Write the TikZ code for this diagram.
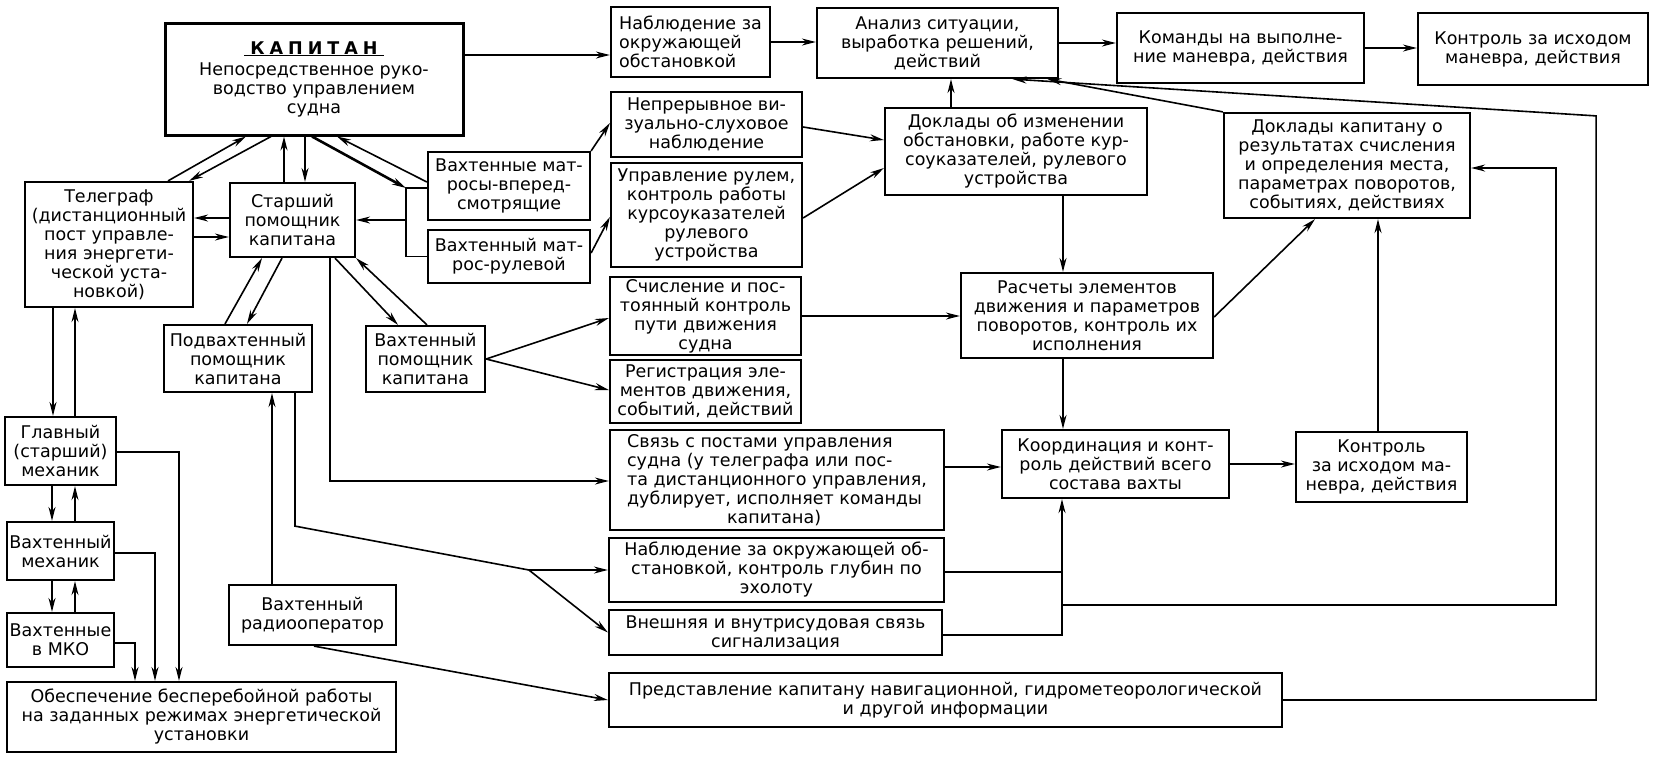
\documentclass[tikz,border=0pt]{standalone}
\usepackage{fontspec}
\setmainfont{DejaVu Sans}
\usetikzlibrary{arrows.meta}
\tikzset{
  blk/.style={draw,line width=2.2pt,align=center,inner sep=2pt},
  sz/.style 2 args={minimum width=#1pt,minimum height=#2pt},
  lnk/.style={line width=1.6pt},
}
\begin{document}
\begin{tikzpicture}[x=1pt,y=-1pt,>={Stealth[length=14pt,width=7pt]},font=\fontsize{17.5}{19}\selectfont]
\useasboundingbox (0,0) rectangle (1658,764);
% blocks
\node[blk,sz={298}{112},line width=3pt] (kap) at (314,79)
  {\underline{\hspace{6pt}\bfseries К\hspace{5pt}А\hspace{5pt}П\hspace{5pt}И\hspace{5pt}Т\hspace{5pt}А\hspace{5pt}Н\hspace{6pt}}\\[2pt]
   Непосредственное руко-\\водство управлением\\судна};
\node[blk,sz={159}{70},align=left] (nabl1) at (690.5,42) {Наблюдение за\\окружающей\\обстановкой};
\node[blk,sz={241}{70}] (anal) at (937.5,43) {Анализ ситуации,\\выработка решений,\\действий};
\node[blk,sz={247}{70}] (kom) at (1240.5,48) {Команды на выполне-\\ние маневра, действия};
\node[blk,sz={230}{72}] (kontr1) at (1533,49) {Контроль за исходом\\маневра, действия};
\node[blk,sz={191}{65}] (nepr) at (706.5,124.5) {Непрерывное ви-\\зуально-слуховое\\наблюдение};
\node[blk,sz={191}{104}] (rul) at (706.5,215) {Управление рулем,\\контроль работы\\курсоуказателей\\рулевого\\устройства};
\node[blk,sz={262}{87}] (dokl1) at (1016,151.5) {Доклады об изменении\\обстановки, работе кур-\\соуказателей, рулевого\\устройства};
\node[blk,sz={246}{105}] (dokl2) at (1347,165.5) {Доклады капитану о\\результатах счисления\\и определения места,\\параметрах поворотов,\\событиях, действиях};
\node[blk,sz={168}{125}] (teleg) at (109,244.5) {Телеграф\\(дистанционный\\пост управле-\\ния энергети-\\ческой уста-\\новкой)};
\node[blk,sz={125}{74}] (star) at (292.5,220) {Старший\\помощник\\капитана};
\node[blk,sz={162}{68}] (matr) at (509,186) {Вахтенные мат-\\росы-вперед-\\смотрящие};
\node[blk,sz={162}{53}] (rulev) at (509,256.5) {Вахтенный мат-\\рос-рулевой};
\node[blk,sz={191}{78}] (schisl) at (705.5,316) {Счисление и пос-\\тоянный контроль\\пути движения\\судна};
\node[blk,sz={252}{85}] (rasch) at (1087,315.5) {Расчеты элементов\\движения и параметров\\поворотов, контроль их\\исполнения};
\node[blk,sz={148}{67}] (podv) at (238,358.5) {Подвахтенный\\помощник\\капитана};
\node[blk,sz={119}{66}] (vpom) at (425.5,359) {Вахтенный\\помощник\\капитана};
\node[blk,sz={191}{63}] (reg) at (705.5,391.5) {Регистрация эле-\\ментов движения,\\событий, действий};
\node[blk,sz={334}{100},align=left] (svyaz) at (777,480) {Связь с постами управления\\судна (у телеграфа или пос-\\та дистанционного управления,\\дублирует, исполняет команды\\\hspace*{100pt}капитана)};
\node[blk,sz={227}{68}] (koord) at (1115.5,464) {Координация и конт-\\роль действий всего\\состава вахты};
\node[blk,sz={171}{70}] (kontr2) at (1381.5,467) {Контроль\\за исходом ма-\\невра, действия};
\node[blk,sz={111}{68}] (glav) at (60.5,451) {Главный\\(старший)\\механик};
\node[blk,sz={107}{58}] (vmeh) at (60.5,551) {Вахтенный\\механик};
\node[blk,sz={107}{54}] (mko) at (60.5,640) {Вахтенные\\в МКО};
\node[blk,sz={335}{64}] (nabl2) at (776.5,570) {Наблюдение за окружающей об-\\становкой, контроль глубин по\\эхолоту};
\node[blk,sz={333}{45}] (vnesh) at (775.5,632.5) {Внешняя и внутрисудовая связь\\сигнализация};
\node[blk,sz={167}{60}] (radio) at (312.5,615) {Вахтенный\\радиооператор};
\node[blk,sz={673}{54}] (pred) at (945.5,700) {Представление капитану навигационной, гидрометеорологической\\и другой информации};
\node[blk,sz={389}{70}] (obesp) at (201.5,717) {Обеспечение бесперебойной работы\\на заданных режимах энергетической\\установки};
% junctions
\coordinate (brk) at ([xshift=-21pt]matr.west |- star.east);
\coordinate (fork) at ([xshift=-79pt]nabl2.west);
\coordinate (merge) at ([xshift=-53.5pt]koord.south);
% straight links
\path[->,lnk]
  ([yshift=24pt]kap.east) edge ([yshift=24pt]kap.east -| nabl1.west)
  (nabl1.east) edge (nabl1.east -| anal.west)
  (anal.east) edge (anal.east -| kom.west)
  (kom.east) edge (kom.east -| kontr1.west)
  ([xshift=59pt]teleg.north) edge ([xshift=-68pt]kap.south)
  ([xshift=-43pt]kap.south) edge ([xshift=-5pt]teleg.north east)
  ([xshift=-8.5pt]star.north) edge ([xshift=-8.5pt]star.north |- kap.south)
  ([xshift=12.5pt]star.north |- kap.south) edge ([xshift=12.5pt]star.north)
  ([yshift=4pt]matr.west) edge ([xshift=23pt]kap.south)
  ([yshift=2pt]star.west) edge ([yshift=2pt]star.west -| teleg.east)
  ([yshift=-17pt]star.west -| teleg.east) edge ([yshift=-17pt]star.west)
  (brk) edge (star.east)
  ([xshift=-13pt]podv.north) edge ([xshift=-30.5pt]star.south)
  ([xshift=-10.5pt]star.south) edge ([xshift=9pt]podv.north)
  ([xshift=42.5pt]star.south) edge ([xshift=-27.5pt]vpom.north)
  ([xshift=1.5pt]vpom.north) edge (star.south east)
  ([xshift=-7.5pt]glav.north |- teleg.south) edge ([xshift=-7.5pt]glav.north)
  ([xshift=14.5pt]glav.north) edge ([xshift=14.5pt]glav.north |- teleg.south)
  ([xshift=-8.5pt]glav.south) edge ([xshift=-8.5pt]glav.south |- vmeh.north)
  ([xshift=14.5pt]glav.south |- vmeh.north) edge ([xshift=14.5pt]glav.south)
  ([xshift=-8.5pt]vmeh.south) edge ([xshift=-8.5pt]vmeh.south |- mko.north)
  ([xshift=14.5pt]vmeh.south |- mko.north) edge ([xshift=14.5pt]vmeh.south)
  ([xshift=-40.5pt]radio.north) edge ([xshift=-40.5pt]radio.north |- podv.south)
  ([xshift=1.5pt]radio.south) edge (pred.west)
  (vpom.east) edge ([yshift=-2pt]schisl.west)
  (vpom.east) edge ([yshift=1.5pt]reg.west)
  (matr.north east) edge ([yshift=1.5pt]nepr.west)
  ([yshift=3.5pt]rulev.east) edge ([yshift=-2pt]rul.west)
  ([yshift=-2.5pt]nepr.east) edge ([yshift=11.5pt]dokl1.west)
  ([yshift=-3pt]rul.east) edge ([yshift=-16.5pt]dokl1.west)
  ([xshift=-65pt]dokl1.north) edge ([xshift=-65pt]dokl1.north |- anal.south)
  ([xshift=47pt]dokl1.south) edge ([xshift=47pt]dokl1.south |- rasch.north)
  (schisl.east) edge (schisl.east -| rasch.west)
  ([xshift=-24pt]rasch.south) edge ([xshift=-24pt]rasch.south |- koord.north)
  ([yshift=-1.5pt]rasch.east) edge ([xshift=-32pt]dokl2.south)
  ([yshift=13pt]svyaz.east) edge ([yshift=13pt]svyaz.east -| koord.west)
  (koord.east) edge (koord.east -| kontr2.west)
  ([xshift=-3.5pt]kontr2.north) edge ([xshift=-3.5pt]kontr2.north |- dokl2.south)
  (dokl2.north west) edge ([xshift=110pt]anal.south)
  (fork) edge (nabl2.west)
  (fork) edge (vnesh.west);
% bent links
\draw[lnk] ([yshift=-2pt]matr.west) -| (brk) |- (rulev.west);
\draw[->,line width=2.6pt] ([xshift=-2pt]kap.south) -- ([xshift=-21pt,yshift=-2pt]matr.west);
\draw[->,lnk] ([xshift=37.5pt]star.south) |- ([yshift=-1pt]svyaz.west);
\draw[->,lnk] ([yshift=-1pt]glav.east) -| ([xshift=-22.5pt]obesp.north);
\draw[->,lnk] ([yshift=-2pt]vmeh.east) -| ([xshift=-46.5pt]obesp.north);
\draw[->,lnk] ([yshift=-3pt]mko.east) -| ([xshift=-66.5pt]obesp.north);
\draw[lnk] ([xshift=57pt]podv.south) -- ++(0,133) -- (fork);
\draw[lnk] ([yshift=-2pt]nabl2.east) -- ([yshift=-2pt]nabl2.east -| merge);
\draw[->,lnk] ([yshift=-2.5pt]vnesh.east) -| (merge);
\draw[->,lnk] ([yshift=-35pt]nabl2.east -| merge) -| ([xshift=85pt,yshift=-2.5pt]dokl2.east) -- ([yshift=-2.5pt]dokl2.east);
\draw[->,lnk] (pred.east) -| ([xshift=125pt,yshift=-4pt]dokl2.north east) -- ([xshift=75pt]anal.south);
\end{tikzpicture}
\end{document}
